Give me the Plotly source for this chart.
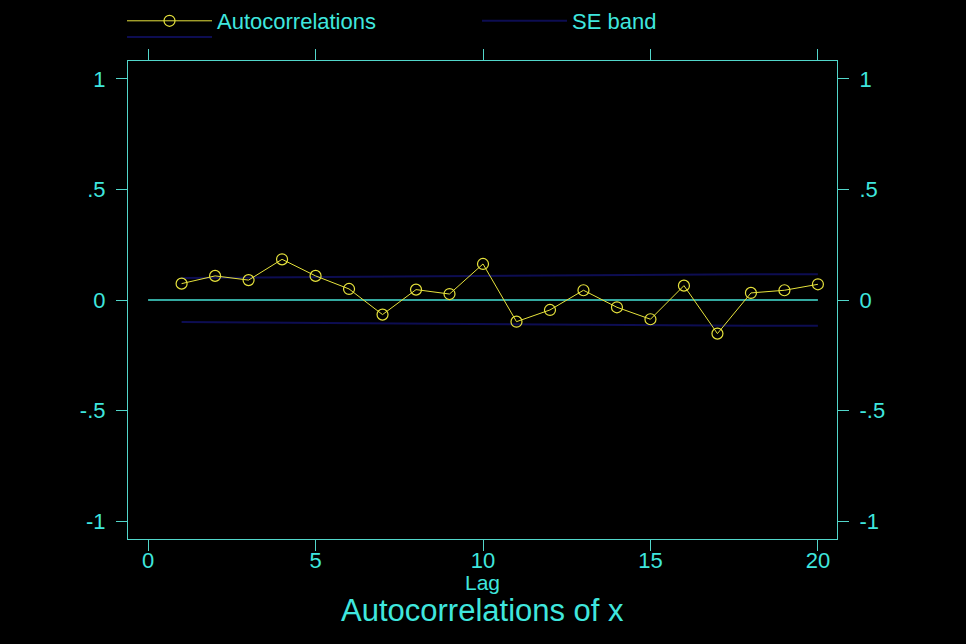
import plotly.graph_objects as go

lags = list(range(1, 21))
autocorr = [0.074, 0.109, 0.090, 0.184, 0.109, 0.050, -0.066, 0.047, 0.027, 0.163,
            -0.098, -0.045, 0.044, -0.033, -0.087, 0.065, -0.152, 0.032, 0.044, 0.071]
se_upper = [0.100, 0.101, 0.102, 0.104, 0.106, 0.107, 0.108, 0.109, 0.109, 0.110,
            0.112, 0.113, 0.113, 0.113, 0.114, 0.114, 0.115, 0.116, 0.116, 0.116]
se_lower = [-v for v in se_upper]
zero_x = [0, 20]
zero_y = [0, 0]
x_ticks = [0, 5, 10, 15, 20]
y_ticks = [-1, -0.5, 0, 0.5, 1]
y_ticktext = ["-1", "-.5", "0", ".5", "1"]

TXT = "#3FE6DE"
LINE = "#52D6CA"
NAVY = "#0D0D52"
YEL = "#E6E23C"
FONT = "Liberation Sans, Arial, sans-serif"

fig = go.Figure()
fig.add_trace(go.Scatter(x=zero_x, y=zero_y, mode="lines", showlegend=False,
                         line=dict(color="#45E0D4", width=1.5), hoverinfo="skip"))
fig.add_trace(go.Scatter(x=lags, y=se_upper, mode="lines", name="SE band",
                         line=dict(color=NAVY, width=2), legend="legend3"))
fig.add_trace(go.Scatter(x=lags, y=se_lower, mode="lines", name=" ",
                         line=dict(color=NAVY, width=2), legend="legend2"))
fig.add_trace(go.Scatter(x=lags, y=autocorr, mode="lines+markers", name="Autocorrelations",
                         line=dict(color=YEL, width=1),
                         marker=dict(symbol="circle-open", size=11, color=YEL, line=dict(width=1.2)),
                         legend="legend"))
# invisible trace so the right axis is drawn
fig.add_trace(go.Scatter(x=zero_x, y=zero_y, yaxis="y2", mode="lines", showlegend=False,
                         line=dict(width=0), hoverinfo="skip", opacity=0))

axis_common = dict(showgrid=False, zeroline=False, showline=True, linecolor=LINE, linewidth=1.2,
                   ticks="outside", ticklen=11, tickcolor=LINE, tickwidth=1.2,
                   tickfont=dict(family=FONT, size=22, color=TXT))

leg_common = dict(xref="container", xanchor="left", yref="container", yanchor="top",
                  itemwidth=85, font=dict(family=FONT, size=22, color=TXT),
                  bgcolor="rgba(0,0,0,0)")

fig.update_layout(
    width=966, height=644,
    paper_bgcolor="black", plot_bgcolor="black",
    margin=dict(l=128, r=129, t=61, b=105, autoexpand=False),
    font=dict(family=FONT, color=TXT),
    xaxis=dict(range=[-0.6, 20.57], tickvals=x_ticks, mirror="ticks",
               ticklabelstandoff=-10, **axis_common),
    yaxis=dict(range=[-1.081, 1.081], tickvals=y_ticks, ticktext=y_ticktext,
               mirror="ticks", ticklabelstandoff=6, **axis_common),
    yaxis2=dict(overlaying="y", side="right", matches="y", tickvals=y_ticks,
                ticktext=y_ticktext, ticklabelstandoff=6, **axis_common),
    legend=dict(x=0.1263, y=1.03, **leg_common),
    legend3=dict(x=0.4938, y=1.03, **leg_common),
    legend2=dict(x=0.1263, y=0.975, **leg_common),
    annotations=[
        dict(text="Lag", x=0.5, xref="paper", y=-0.09, yref="paper", showarrow=False,
             yanchor="middle", font=dict(family=FONT, size=21, color=TXT)),
        dict(text="Autocorrelations of x", x=0.5, xref="paper", y=-0.15, yref="paper",
             showarrow=False, yanchor="middle", font=dict(family=FONT, size=31, color=TXT)),
    ],
)

fig.write_html("out.html", config={"displayModeBar": False},
               post_script="document.body.style.margin='0';document.body.style.background='black';")
